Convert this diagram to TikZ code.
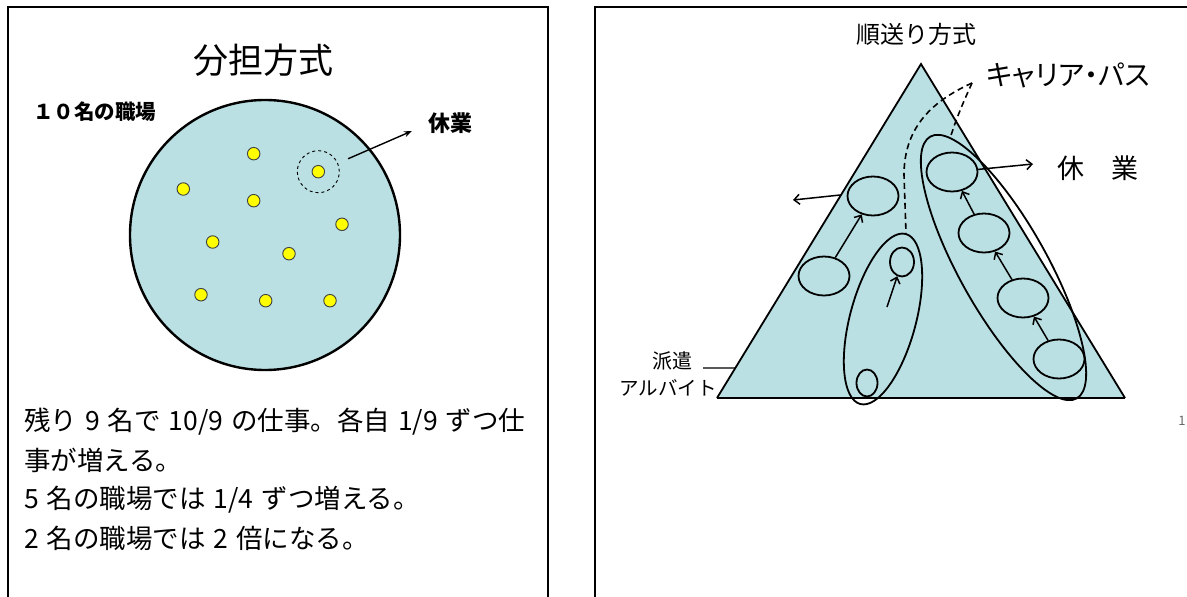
\documentclass[tikz,border=0pt]{standalone}
\usepackage{fontspec}
\setmainfont{Noto Sans CJK JP}
\newfontfamily\jpp[RawFeature=+palt]{Noto Sans CJK JP}
\usetikzlibrary{shapes.geometric,arrows.meta,calc}
\definecolor{tri}{RGB}{186,224,227}
\definecolor{dotc}{RGB}{255,255,0}
\newcommand\mybodyfont{\fontsize{26.5}{30}\selectfont\spaceskip 0.3em\relax}
\begin{document}
\begin{tikzpicture}[x=1pt,y=-1pt,
  frame/.style={line width=2.2pt},
  dotn/.style={circle,fill=dotc,draw=black!75,line width=0.9pt,minimum size=12.5pt,inner sep=0pt},
  pers/.style={ellipse,draw,line width=1.8pt,fill=tri,inner sep=0pt,minimum width=51pt,minimum height=39pt},
  grp/.style={ellipse,draw,line width=1.8pt,inner sep=0pt},
  arr/.style={-{Straight Barb[length=5.5pt,width=10pt]},line width=1.5pt},
  dsh/.style={dash pattern=on 6pt off 4pt,line width=1.6pt},
  lbl/.style={inner sep=0pt},
  body/.style={lbl,anchor=west,font=\mybodyfont},
]
\useasboundingbox (0,0) rectangle (1187,597);
% ---------- left panel ----------
\draw[frame] (8,600) -- (8,7) -- (548,7) -- (548,600);
\node[lbl,font=\fontsize{35}{40}\selectfont] (t1) at (263,60) {分担方式};
\node[lbl,font=\bfseries\fontsize{20.5}{24}\selectfont] (w10) at (95,112) {１０名の職場};
\node[circle,draw,line width=2.4pt,fill=tri,minimum size=270pt,inner sep=0pt] (big) at (265,235) {};
\node[circle,draw,dashed,line width=0.9pt,minimum size=42pt,inner sep=0pt] (dc) at (318.3,171.7) {};
\node[dotn] (d0) at (318.3,171.7) {};
\node[dotn] (d1) at (253.7,153.7) {};
\node[dotn] (d2) at (183.3,189) {};
\node[dotn] (d3) at (253.7,200.7) {};
\node[dotn] (d4) at (342,224.3) {};
\node[dotn] (d5) at (212.7,242) {};
\node[dotn] (d6) at (289,253.7) {};
\node[dotn] (d7) at (201,294.7) {};
\node[dotn] (d8) at (265.7,300.7) {};
\node[dotn] (d9) at (330,300.7) {};
\node[lbl,font=\bfseries\fontsize{22}{26}\selectfont] (kyu1) at (450,123) {休業};
\coordinate (k1a) at (412,131);
\draw[-{Stealth[length=8pt,width=6pt]},line width=1.4pt,shorten <=11pt] (dc) -- (k1a);
\node[body] (p1) at (24,422) {残り 9 名で 10/9 の仕事。各自 1/9 ずつ仕};
\node[body] (p2) at (24,460) {事が増える。};
\node[body] (p3) at (24,499.5) {5 名の職場では 1/4 ずつ増える。};
\node[body] (p4) at (24,538) {2 名の職場では 2 倍になる。};
% ---------- right panel ----------
\draw[frame] (595,600) -- (595,7) -- (1190,7);
\node[lbl,font=\fontsize{24}{28}\selectfont] (t2) at (916,34) {順送り方式};
\coordinate (ap) at (921,64);
\coordinate (bl) at (717,398);
\coordinate (br) at (1125,398);
\fill[tri] (ap) -- (bl) -- (br) -- cycle;
\draw[line width=1.8pt] (bl) -- (ap) -- (br);
\draw[line width=2.6pt] (bl) -- (br);
\node[grp,rotate=-60.8,minimum width=300pt,minimum height=88pt] (gR) at (1003.5,267.5) {};
\node[grp,rotate=75,minimum width=176pt,minimum height=66pt] (gM) at (883,319) {};
\node[pers] (r1) at (952,172) {};
\node[pers] (r2) at (984,233) {};
\node[pers] (r3) at (1023,298) {};
\node[pers] (r4) at (1059,359) {};
\node[pers] (l1) at (873,196) {};
\node[pers] (l2) at (824,276) {};
\node[pers,minimum width=24pt,minimum height=29pt] (m1) at (902,262) {};
\node[pers,minimum width=21pt,minimum height=27pt] (m2) at (867,383) {};
\draw[arr] (r4) -- (r3);
\draw[arr] (r3) -- (r2);
\draw[arr] (r2) -- (r1);
\draw[arr] (l2) -- (l1);
\coordinate (ms) at (887,307);
\draw[arr] (ms) -- (m1);
\coordinate (ke) at (1033,164);
\draw[arr] (r1) -- (ke);
\coordinate (la) at ($(ap)!0.392!(bl)$);
\coordinate (le) at (793,200);
\draw[arr] (la) -- (le);
\node[lbl,font=\fontsize{27}{30}\selectfont] (kyu2) at (1098,168) {休　業};
\node[lbl,font=\jpp\fontsize{28}{31}\selectfont] (cp) at (1068,75) {キャリア・パス};
\coordinate (c0) at (972,83);
\draw[dsh] (c0) .. controls (962,105) and (955,122) .. (gR.173);
\draw[dsh] (c0) .. controls (935,100) and (904,125) .. (904,175) -- (gM.east);
\node[lbl,font=\fontsize{20}{24}\selectfont] (ha) at (672,361) {派遣};
\node[lbl,font=\fontsize{19.5}{24}\selectfont] (ar) at (668,388) {アルバイト};
\coordinate (hs) at (703,368);
\coordinate (hl) at ($(ap)!0.91!(bl)$);
\draw[line width=1.2pt] (hs) -- (hl);
\node[lbl,font=\fontsize{13}{14}\selectfont,text=black!60] (pg) at (1182,421) {1};
\end{tikzpicture}
\end{document}
